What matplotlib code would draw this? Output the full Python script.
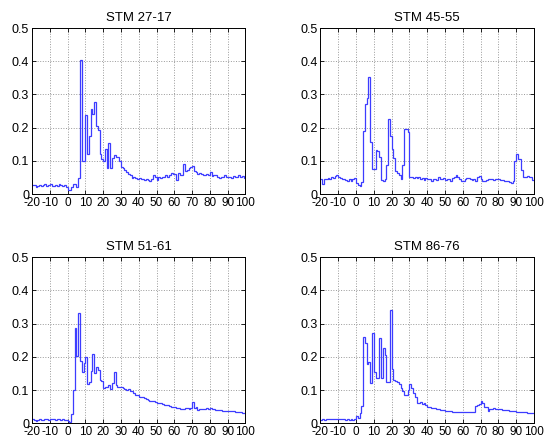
import numpy as np
import matplotlib
matplotlib.use('Agg')
import matplotlib.pyplot as plt

plt.rcParams['font.family'] = ['Liberation Sans', 'DejaVu Sans']
plt.rcParams['axes.unicode_minus'] = False

# bin edges: one bin per unit from -20 to 100
edges = np.arange(-20, 101)

titles = ['STM 27-17', 'STM 45-55', 'STM 51-61', 'STM 86-76']

stm_27_17 = [
    0.027, 0.026, 0.022, 0.025, 0.026, 0.024, 0.028, 0.030, 0.025, 0.026,
    0.030, 0.025, 0.024, 0.026, 0.025, 0.030, 0.027, 0.025, 0.026, 0.022,
    0.012, 0.012, 0.020, 0.029, 0.029, 0.022, 0.047, 0.403, 0.100, 0.100,
    0.237, 0.120, 0.175, 0.255, 0.240, 0.278, 0.205, 0.192, 0.120, 0.105,
    0.100, 0.135, 0.078, 0.155, 0.078, 0.108, 0.118, 0.112, 0.112, 0.098,
    0.080, 0.078, 0.072, 0.066, 0.060, 0.056, 0.048, 0.052, 0.048, 0.046,
    0.047, 0.044, 0.045, 0.043, 0.046, 0.041, 0.040, 0.045, 0.056, 0.050,
    0.042, 0.050, 0.048, 0.050, 0.052, 0.056, 0.050, 0.058, 0.064, 0.060,
    0.060, 0.042, 0.062, 0.058, 0.056, 0.090, 0.068, 0.072, 0.078, 0.082,
    0.084, 0.070, 0.066, 0.060, 0.062, 0.060, 0.058, 0.056, 0.060, 0.058,
    0.066, 0.055, 0.058, 0.056, 0.052, 0.048, 0.050, 0.052, 0.058, 0.052,
    0.050, 0.052, 0.048, 0.054, 0.052, 0.050, 0.056, 0.050, 0.055, 0.048,
]

stm_45_55 = [
    0.045, 0.030, 0.046, 0.045, 0.048, 0.044, 0.050, 0.048, 0.054, 0.058,
    0.052, 0.048, 0.044, 0.046, 0.043, 0.040, 0.044, 0.040, 0.046, 0.048,
    0.032, 0.027, 0.025, 0.037, 0.190, 0.272, 0.290, 0.352, 0.156, 0.075,
    0.075, 0.132, 0.130, 0.113, 0.042, 0.038, 0.045, 0.088, 0.226, 0.176,
    0.135, 0.108, 0.070, 0.062, 0.057, 0.045, 0.086, 0.196, 0.196, 0.186,
    0.052, 0.050, 0.048, 0.050, 0.047, 0.050, 0.046, 0.049, 0.043, 0.048,
    0.045, 0.044, 0.040, 0.046, 0.046, 0.043, 0.050, 0.046, 0.044, 0.047,
    0.043, 0.046, 0.044, 0.040, 0.048, 0.052, 0.056, 0.052, 0.044, 0.039,
    0.039, 0.044, 0.047, 0.048, 0.046, 0.042, 0.044, 0.040, 0.050, 0.053,
    0.045, 0.040, 0.038, 0.042, 0.045, 0.044, 0.046, 0.042, 0.044, 0.046,
    0.045, 0.042, 0.043, 0.040, 0.040, 0.038, 0.036, 0.034, 0.040, 0.100,
    0.120, 0.105, 0.105, 0.072, 0.050, 0.052, 0.055, 0.052, 0.050, 0.042,
]

stm_51_61 = [
    0.012, 0.010, 0.008, 0.010, 0.012, 0.010, 0.011, 0.012, 0.012, 0.011,
    0.012, 0.012, 0.012, 0.011, 0.012, 0.012, 0.011, 0.012, 0.011, 0.010,
    0.006, 0.005, 0.028, 0.100, 0.288, 0.203, 0.332, 0.188, 0.155, 0.182,
    0.200, 0.118, 0.125, 0.158, 0.210, 0.152, 0.170, 0.160, 0.130, 0.128,
    0.105, 0.110, 0.110, 0.115, 0.103, 0.120, 0.155, 0.115, 0.108, 0.110,
    0.108, 0.105, 0.104, 0.100, 0.102, 0.098, 0.096, 0.090, 0.086, 0.084,
    0.080, 0.080, 0.078, 0.076, 0.074, 0.070, 0.068, 0.066, 0.066, 0.064,
    0.062, 0.060, 0.060, 0.058, 0.056, 0.055, 0.054, 0.052, 0.050, 0.050,
    0.048, 0.046, 0.045, 0.042, 0.044, 0.043, 0.046, 0.045, 0.044, 0.046,
    0.064, 0.046, 0.048, 0.040, 0.044, 0.042, 0.044, 0.043, 0.045, 0.044,
    0.046, 0.044, 0.042, 0.041, 0.040, 0.040, 0.039, 0.038, 0.038, 0.037,
    0.038, 0.037, 0.036, 0.036, 0.035, 0.035, 0.034, 0.033, 0.032, 0.030,
]

stm_86_76 = [
    0.010, 0.012, 0.011, 0.013, 0.012, 0.014, 0.013, 0.012, 0.013, 0.014,
    0.013, 0.012, 0.012, 0.013, 0.011, 0.012, 0.010, 0.012, 0.011, 0.012,
    0.022, 0.015, 0.030, 0.052, 0.260, 0.243, 0.178, 0.185, 0.120, 0.272,
    0.155, 0.135, 0.135, 0.258, 0.135, 0.228, 0.205, 0.125, 0.125, 0.340,
    0.165, 0.130, 0.128, 0.125, 0.118, 0.105, 0.098, 0.086, 0.086, 0.100,
    0.117, 0.105, 0.090, 0.080, 0.062, 0.062, 0.063, 0.058, 0.060, 0.055,
    0.050, 0.048, 0.047, 0.046, 0.045, 0.044, 0.042, 0.041, 0.040, 0.040,
    0.038, 0.037, 0.037, 0.036, 0.035, 0.035, 0.034, 0.034, 0.033, 0.033,
    0.034, 0.035, 0.035, 0.034, 0.035, 0.035, 0.035, 0.053, 0.055, 0.058,
    0.067, 0.062, 0.050, 0.048, 0.037, 0.042, 0.044, 0.045, 0.044, 0.043,
    0.042, 0.042, 0.041, 0.040, 0.040, 0.039, 0.038, 0.037, 0.036, 0.036,
    0.035, 0.035, 0.034, 0.034, 0.033, 0.033, 0.032, 0.032, 0.032, 0.032,
]

series = [stm_27_17, stm_45_55, stm_51_61, stm_86_76]

xticks = list(range(-20, 101, 10))
yticks = [0, 0.1, 0.2, 0.3, 0.4, 0.5]
ytick_labels = ['0', '0.1', '0.2', '0.3', '0.4', '0.5']

fig = plt.figure(figsize=(5.45, 4.42), dpi=100)

# axes rectangles [left, bottom, width, height] in figure fractions
rects = [
    [0.0587, 0.561, 0.3917, 0.3756],
    [0.588, 0.561, 0.3917, 0.3756],
    [0.0587, 0.0423, 0.3917, 0.3756],
    [0.588, 0.0423, 0.3917, 0.3756],
]

for rect, title, vals in zip(rects, titles, series):
    ax = fig.add_axes(rect)
    ax.stairs(vals, edges, baseline=None, color='#3c3cff', linewidth=0.9)
    ax.set_xlim(-20, 100)
    ax.set_ylim(0, 0.5)
    ax.set_xticks(xticks)
    ax.set_yticks(yticks)
    ax.set_yticklabels(ytick_labels)
    ax.grid(True, linestyle=':', color='0.6', linewidth=0.7)
    ax.set_axisbelow(True)
    ax.tick_params(direction='in', length=3, width=0.6, labelsize=9,
                   top=True, right=True, pad=2)
    ax.tick_params(axis='x', labelsize=8.5)
    for s in ax.spines.values():
        s.set_linewidth(0.7)
    ax.set_title(title, fontsize=9.5, pad=5)

fig.savefig('out.png', dpi=100)
